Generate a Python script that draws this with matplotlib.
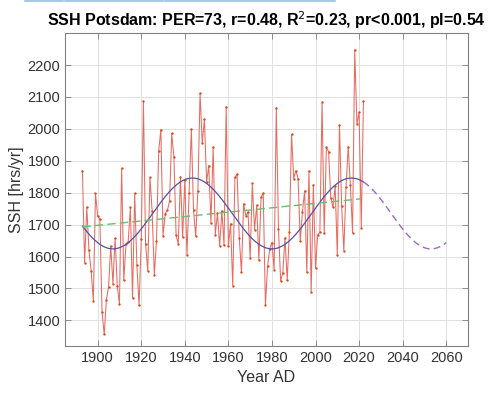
import numpy as np
import matplotlib
matplotlib.use("Agg")
import matplotlib.pyplot as plt
from matplotlib.lines import Line2D

plt.rcParams['font.family'] = ['Liberation Sans', 'DejaVu Sans']

years = list(range(1893, 2023))
ssh = [1869, 1581, 1754, 1619, 1555, 1462, 1798, 1726, 1718, 1426,
       1356, 1465, 1504, 1633, 1515, 1658, 1507, 1452, 1876, 1526,
       1640, 1646, 1754, 1471, 1798, 1572, 1447, 1654, 2087, 1638,
       1555, 1848, 1742, 1542, 1648, 1930, 1998, 1665, 1734, 1745,
       1774, 1986, 1911, 1667, 1640, 1850, 1661, 1839, 1605, 1800,
       1999, 1745, 1664, 1805, 2112, 1955, 2031, 1833, 1885, 1706,
       1943, 1669, 1736, 1634, 1744, 1635, 2070, 1633, 1703, 1509,
       1848, 1859, 1658, 1551, 1765, 1728, 1740, 1595, 1829, 1684,
       1760, 1589, 1786, 1799, 1448, 1569, 1625, 1644, 1559, 2066,
       1686, 1523, 1550, 1659, 1525, 1676, 1983, 1844, 1869, 1843,
       1648, 1740, 1806, 1551, 1869, 1489, 1825, 1564, 1668, 1676,
       2084, 1674, 1944, 1928, 1784, 1754, 1821, 1605, 2012, 1758,
       1618, 1818, 1944, 1823, 1675, 2248, 2015, 2052, 1691, 2087]

# sinusoid fit parameters (period 73 yr)
period = 73
fit_mean = 1735
fit_amp = 111
fit_peak_year = 1943.5
forecast_end = 2060

# linear trend endpoints
trend_years = [1893, 2021]
trend_vals = [1693, 1781]

yrs = np.array(years, dtype=float)
vals = np.array(ssh, dtype=float)

fig = plt.figure(figsize=(5.0, 3.94), dpi=100)
ax = fig.add_axes([0.13, 0.122, 0.806, 0.794])

ax.plot(yrs, vals, color=(0.9, 0.42, 0.38), lw=0.75, zorder=3)
ax.plot(yrs, vals, ls='none', marker='o', ms=1.7, mew=0,
        color=(0.85, 0.3, 0.1), zorder=4)

xf = np.linspace(yrs[0], yrs[-1], 400)
ax.plot(xf, fit_mean + fit_amp * np.cos(2 * np.pi * (xf - fit_peak_year) / period),
        color=(0.3, 0.33, 0.65), lw=0.9, zorder=5)

xp = np.linspace(yrs[-1], forecast_end, 200)
ax.plot(xp, fit_mean + fit_amp * np.cos(2 * np.pi * (xp - fit_peak_year) / period),
        color=(0.62, 0.4, 0.8), lw=1.0, ls=(0, (5, 3)), zorder=5)

ax.plot(trend_years, trend_vals, color=(0.45, 0.72, 0.45), lw=1.0,
        ls=(0, (6, 3)), zorder=5)

ax.set_xlim(1885, 2070)
ax.set_ylim(1320, 2300)
ax.set_xticks(range(1900, 2061, 20))
ax.set_yticks(range(1400, 2201, 100))
ax.grid(True, color=(0.88, 0.88, 0.88), lw=0.7)
ax.set_axisbelow(True)
for s in ax.spines.values():
    s.set_color((0.5, 0.5, 0.5))
    s.set_linewidth(0.8)
ax.tick_params(direction='in', length=4, width=0.6, colors=(0.5, 0.5, 0.5),
               labelcolor=(0.2, 0.2, 0.2), labelsize=10.5, top=True, right=True)

ax.set_xlabel('Year AD', fontsize=11.5, color=(0.2, 0.2, 0.2))
ax.set_ylabel('SSH [hrs/yr]', fontsize=11.5, color=(0.2, 0.2, 0.2), labelpad=2)
ax.set_title('SSH Potsdam: PER=73, r=0.48, R$^2$=0.23, pr<0.001, pl=0.54',
             fontsize=11.5, fontweight='bold', pad=5)

# faint blue strips at very top (as in the reference screenshot)
for x0, x1 in [(0.05, 0.126), (0.13, 0.326), (0.33, 0.67)]:
    fig.add_artist(Line2D([x0, x1], [0.997, 0.997], transform=fig.transFigure,
                          color=(0.6, 0.75, 0.9), lw=1.2))

fig.savefig('out.png', dpi=100)
